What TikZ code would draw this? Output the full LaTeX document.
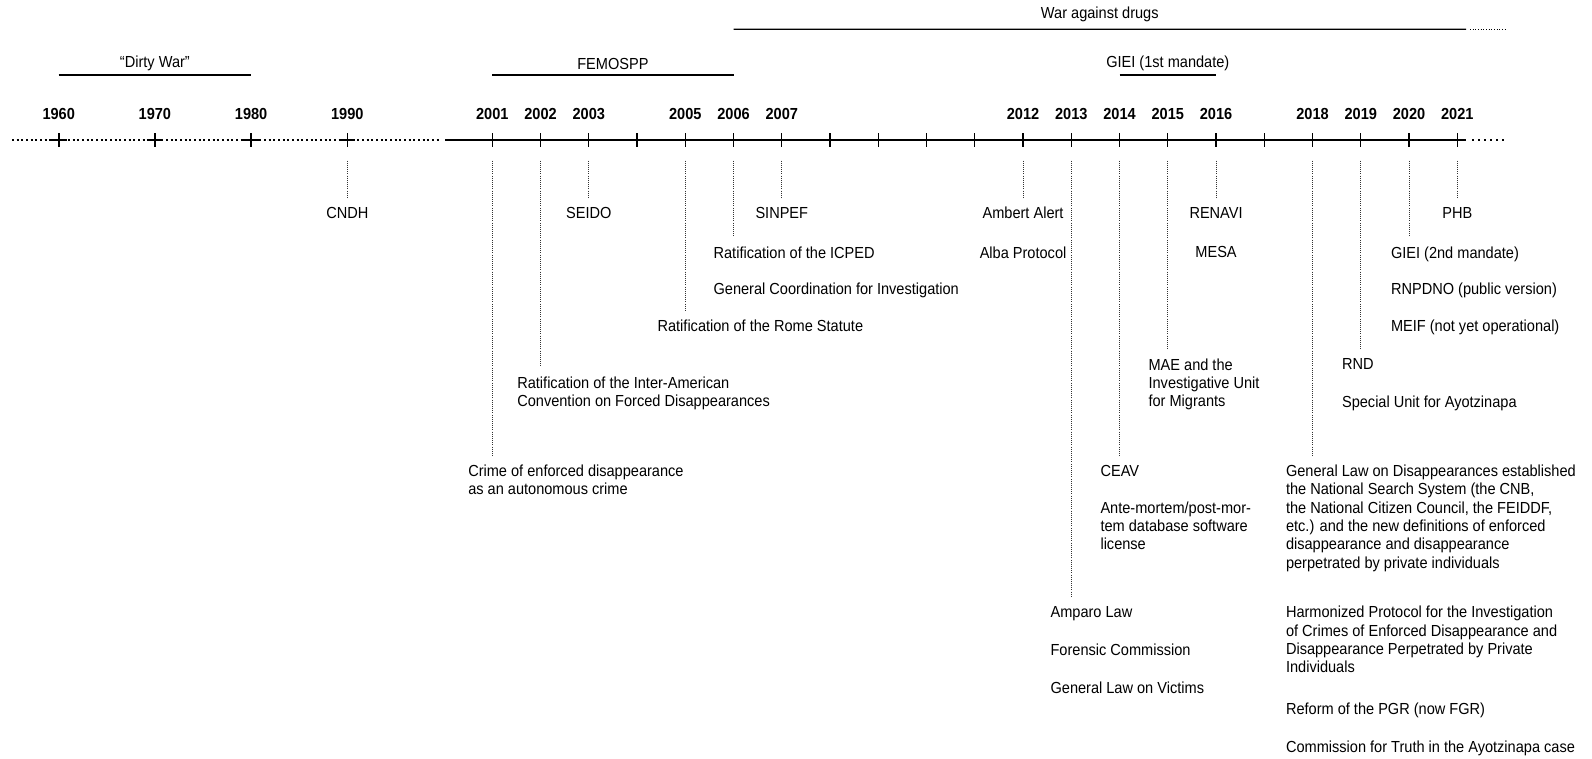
\documentclass[tikz,border=0pt]{standalone}
\usepackage{fontspec}
\setmainfont{Liberation Sans}[FakeStretch=0.91]
\usetikzlibrary{calc}

\begin{document}
\begin{tikzpicture}[x=0.75pt,y=-0.75pt]

\def\lwaxis{2pt}
\def\lwtick{1pt}
\def\lwper{1pt}
\def\fs{\fontsize{12}{13.7}\selectfont}
\tikzset{
ev/.style = {inner sep=0pt, anchor=north west, align=left, font=\fs},
evc/.style = {ev, anchor=north},
yr/.style = {inner sep=0pt, font=\fs\bfseries},
per/.style = {inner sep=0pt, font=\fs},
conn/.style = {draw=black!80, line width=0.7pt, dash pattern=on 0.7pt off 0.9pt, shorten <=15.5pt, shorten >=7pt}
}

\useasboundingbox (0,0) rectangle (1592,758);

% time axis
\draw[line width=1.5pt, dash pattern=on 1.5pt off 2pt] (12,140) -- (440,140);
\draw[line width=\lwaxis] (445,140) -- (1466,140);
\draw[line width=1.5pt, dash pattern=on 1.5pt off 3pt] (1472,140) -- (1505,140);

% decades
\foreach \y [count=\i from 0] in {1960,1970,1980,1990}{
  \coordinate (t\y) at ({58.7+\i*96.2},140);
  \draw[line width=1.6pt] ($(t\y)+(-8,0)$) -- ($(t\y)+(8,0)$);
  \draw[line width=1.2pt] ($(t\y)+(0,-7)$) -- ($(t\y)+(0,7)$);
  \node[yr] (y\y) at ($(t\y)+(0,-26)$) {\y};
}

% years
\foreach \y in {2001,...,2021}{
  \coordinate (t\y) at ({492.3+(\y-2001)*48.25},140);
  \draw[line width=\lwtick] ($(t\y)+(0,-7)$) -- ($(t\y)+(0,7)$);
}
\foreach \y in {2001,2002,2003,2005,2006,2007,2012,2013,2014,2015,2016,2018,2019,2020,2021}
  \node[yr] (y\y) at ($(t\y)+(0,-26)$) {\y};

% periods
\draw[line width=\lwper] ($(t1960)+(0,-65)$) coordinate (dw1) -- ($(t1980)+(0,-65)$) coordinate (dw2);
\node[per] (dirty) at ($(dw1)!0.5!(dw2)+(0,-11.5)$) {``Dirty War''};
\draw[line width=\lwper] ($(t2001)+(0,-65)$) coordinate (fe1) -- ($(t2006)+(0,-65)$) coordinate (fe2);
\node[per] (femospp) at ($(fe1)!0.5!(fe2)+(0,-11.5)$) {FEMOSPP};
\draw[line width=\lwper] ($(t2014)+(0,-65)$) coordinate (gi1) -- ($(t2016)+(0,-65)$) coordinate (gi2);
\node[per] (giei1) at ($(gi1)!0.5!(gi2)+(0,-11.5)$) {GIEI (1st mandate)};
\draw[line width=\lwper] ($(t2006)+(0,-110.7)$) coordinate (wd1) -- (1466,29.3) coordinate (wd2);
\draw[line width=0.8pt, dash pattern=on 0.8pt off 1.2pt] (wd2) ++(4,0) -- (1505,29.3);
\node[per] (war) at ($(wd1)!0.5!(wd2)+(0,-15)$) {War against drugs};

% events
\node[evc] (cndh) at ($(t1990)+(0,67)$) {CNDH};
\node[ev] (crime) at ($(t2001)+(-24.3,324.8)$) {Crime of enforced disappearance\\as an autonomous crime};
\node[ev] (iacfd) at ($(t2002)+(-23.5,236.5)$) {Ratification of the Inter-American\\Convention on Forced Disappearances};
\node[evc] (seido) at ($(t2003)+(0,67)$) {SEIDO};
\node[ev] (rome) at ($(t2005)+(-28,179.6)$) {Ratification of the Rome Statute};
\node[ev] (icped) at ($(t2006)+(-20.2,106.5)$) {Ratification of the ICPED};
\node[ev] (gci) at ($(t2006)+(-20.2,143)$) {General Coordination for Investigation};
\node[evc] (sinpef) at ($(t2007)+(0,67)$) {SINPEF};
\node[evc] (amber) at ($(t2012)+(0,67)$) {Ambert Alert};
\node[evc] (alba) at ($(t2012)+(0,106.5)$) {Alba Protocol};
\node[ev] (amparo) at ($(t2013)+(-21,466)$) {Amparo Law};
\node[ev] (forensic) at ($(t2013)+(-21,503.5)$) {Forensic Commission};
\node[ev] (victims) at ($(t2013)+(-21,542.1)$) {General Law on Victims};
\node[ev] (ceav) at ($(t2014)+(-19.3,324.8)$) {CEAV};
\node[ev] (amdb) at ($(t2014)+(-19.3,361.3)$) {Ante-mortem/post-mor-\\tem database software\\license};
\node[ev] (mae) at ($(t2015)+(-19.5,218.2)$) {MAE and the\\Investigative Unit\\for Migrants};
\node[evc] (renavi) at ($(t2016)+(0,67)$) {RENAVI};
\node[evc] (mesa) at ($(t2016)+(0,106.5)$) {MESA};
\node[ev] (gld) at ($(t2018)+(-26.8,324.8)$) {General Law on Disappearances established\\the National Search System (the CNB,\\the National Citizen Council, the FEIDDF,\\etc.) and the new definitions of enforced\\disappearance and disappearance\\perpetrated by private individuals};
\node[ev] (hpi) at ($(t2018)+(-26.8,466)$) {Harmonized Protocol for the Investigation\\of Crimes of Enforced Disappearance and\\Disappearance Perpetrated by Private\\Individuals};
\node[ev] (pgr) at ($(t2018)+(-26.8,562.4)$) {Reform of the PGR (now FGR)};
\node[ev] (truth) at ($(t2018)+(-26.8,601)$) {Commission for Truth in the Ayotzinapa case};
\node[ev] (rnd) at ($(t2019)+(-19,218.2)$) {RND};
\node[ev] (suay) at ($(t2019)+(-19,255.7)$) {Special Unit for Ayotzinapa};
\node[ev] (giei2) at ($(t2020)+(-18.3,106.5)$) {GIEI (2nd mandate)};
\node[ev] (rnpdno) at ($(t2020)+(-18.3,143)$) {RNPDNO (public version)};
\node[ev] (meif) at ($(t2020)+(-18.3,179.6)$) {MEIF (not yet operational)};
\node[evc] (phb) at ($(t2021)+(0,67)$) {PHB};

% connectors
\foreach \y/\n in {1990/cndh,2001/crime,2002/iacfd,2003/seido,2005/rome,2006/icped,2007/sinpef,2012/amber,2013/amparo,2014/ceav,2015/mae,2016/renavi,2018/gld,2019/rnd,2020/giei2,2021/phb}
  \draw[conn] (t\y) -- (t\y |- \n.north);

\end{tikzpicture}
\end{document}
